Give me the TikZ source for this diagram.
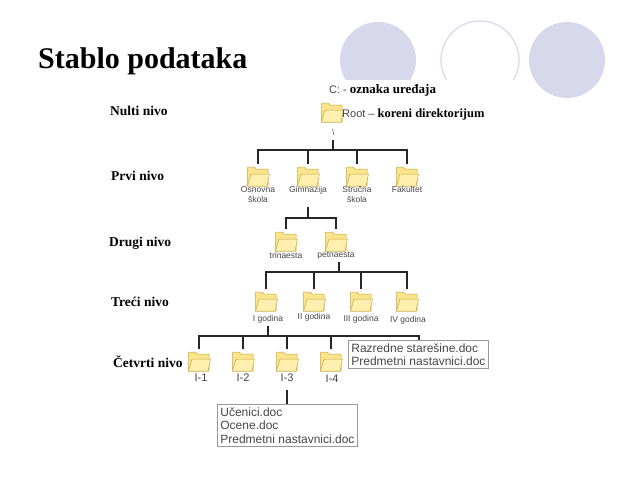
\documentclass[tikz,border=0pt]{standalone}
\usepackage{fontspec}
\setmainfont{Liberation Serif}
\newfontfamily\arial{Liberation Sans}
\definecolor{lav}{RGB}{216,216,236}
\definecolor{fyel}{RGB}{250,228,140}
\definecolor{fyel2}{RGB}{255,240,175}
\definecolor{fedge}{RGB}{200,165,60}
\definecolor{tgrey}{RGB}{70,70,70}
\tikzset{
  fold/.style={minimum width=24pt,minimum height=23pt,inner sep=0pt,
    path picture={\begin{scope}[shift={(path picture bounding box.center)}]
      \filldraw[fill=fyel,draw=fedge,line width=0.5pt] (-10.5,10)--(-10.5,-9)--(-4,-9)--(-2,-7)--(10,-7)--(10,10)--cycle;
      \filldraw[fill=fyel2,draw=fedge,line width=0.5pt] (-10.5,10)--(-7,-2)--(11.5,-2)--(9,10)--cycle;
    \end{scope}}},
  lvl/.style={font=\fontsize{13.5}{15}\selectfont\bfseries,anchor=west,inner sep=0pt},
  lab/.style={font=\arial\fontsize{8.5}{10}\selectfont,text=tgrey,align=center,inner sep=0pt},
  ilab/.style={lab,font=\arial\fontsize{11}{12}\selectfont,anchor=north},
  big/.style={font=\arial\fontsize{12}{13.5}\selectfont,text=tgrey,align=left,anchor=north west,draw=gray!80,line width=0.8pt,inner sep=3pt},
  conn/.style={line width=1.3pt,black!85}
}
\begin{document}
\begin{tikzpicture}[x=1pt,y=-1pt]
\useasboundingbox (0,0) rectangle (638,479);
\fill[lav] (378,60) circle (38);
\draw[lav,line width=1.2pt] (480,60) circle (39);
\fill[lav] (567,60) circle (38);
\fill[white] (318,80) rectangle (522,130);
\node[anchor=west,inner sep=0pt,font=\fontsize{30}{33}\selectfont\bfseries] (title) at (38,61) {Stablo podataka};
% levels
\node[lvl] (l0) at (110,111) {Nulti nivo};
\node[lvl] (l1) at (111,176) {Prvi nivo};
\node[lvl] (l2) at (109,243) {Drugi nivo};
\node[lvl] (l3) at (111,302) {Treći nivo};
\node[lvl] (l4) at (113,362) {Četvrti nivo};
% root
\node[anchor=west,inner sep=0pt] (cdev) at (329,90) {{\arial\fontsize{11}{12}\selectfont\color{tgrey}C: - }{\fontsize{13}{14}\selectfont\bfseries oznaka uređaja}};
\node[fold] (root) at (332,112) {};
\node[anchor=west,inner sep=0pt] (rootl) at (342,114) {{\arial\fontsize{11}{12}\selectfont\color{tgrey}Root – }{\fontsize{12.5}{14}\selectfont\bfseries koreni direktorijum}};
\draw[black!70,line width=0.6pt] (332.5,129)--(334,135);
% level 1
\foreach \n/\x in {a/258,b/308,c/357,d/407}{\node[fold] (\n) at (\x,176) {};}
\node[lab,anchor=north] (at) at (258,186) {Osnovna\\škola};
\node[lab,anchor=north] (bt) at (308,186) {Gimnazija};
\node[lab,anchor=north] (ct) at (357,186) {Stručna\\škola};
\node[lab,anchor=north] (dt) at (407,186) {Fakultet};
\coordinate (r0) at (333,140);
\coordinate (bus1) at (333,150);
\draw[conn] (r0)--(bus1);
\draw[conn] (a.north) |- (bus1) -| (d.north);
\draw[conn] (b.north)--(b.north|-bus1);
\draw[conn] (c.north)--(c.north|-bus1);
% level 2
\node[fold] (e) at (286,241) {};
\node[fold] (f) at (336,241) {};
\node[lab,anchor=north] (et) at (286,252) {trinaesta};
\node[lab,anchor=north] (ft) at (336,252) {petnaesta};
\coordinate (s2) at (308,207);
\coordinate (bus2) at (308,218);
\draw[conn] (s2)--(bus2);
\draw[conn] (e.north) |- (bus2) -| (f.north);
% level 3
\foreach \n/\x in {g/266,h/314,i/361,j/407}{\node[fold] (\n) at (\x,301) {};}
\node[lab,anchor=north] (gt) at (268,315) {I godina};
\node[lab,anchor=north] (ht) at (314,313) {II godina};
\node[lab,anchor=north] (it) at (361,315) {III godina};
\node[lab,anchor=north] (jt) at (408,316) {IV godina};
\coordinate (s3) at (339,262);
\coordinate (bus3) at (339,272);
\draw[conn] (s3)--(bus3);
\draw[conn] (g.north) |- (bus3) -| (j.north);
\draw[conn] (h.north)--(h.north|-bus3);
\draw[conn] (i.north)--(i.north|-bus3);
% level 4
\foreach \n/\x in {k/199,l/243,m/287,n/331}{\node[fold] (\n) at (\x,361) {};}
\node[ilab] (kt) at (201,374) {I-1};
\node[ilab] (lt) at (243,374) {I-2};
\node[ilab] (mt) at (287,374) {I-3};
\node[ilab] (nt) at (332,375) {I-4};
\node[big] (box1) at (348,340) {Razredne starešine.doc\\Predmetni nastavnici.doc};
\coordinate (s4) at (268,326);
\coordinate (bus4) at (268,336);
\draw[conn] (s4)--(bus4);
\draw[conn] (k.north) |- (bus4) -| (box1.north-|419,0);
\draw[conn] (l.north)--(l.north|-bus4);
\draw[conn] (m.north)--(m.north|-bus4);
\draw[conn] (n.north)--(n.north|-bus4);
\node[big] (box2) at (217,404) {Učenici.doc\\Ocene.doc\\Predmetni nastavnici.doc};
\coordinate (s5) at (287,390);
\draw[conn] (s5)--(box2.north-|s5);
\end{tikzpicture}
\end{document}
